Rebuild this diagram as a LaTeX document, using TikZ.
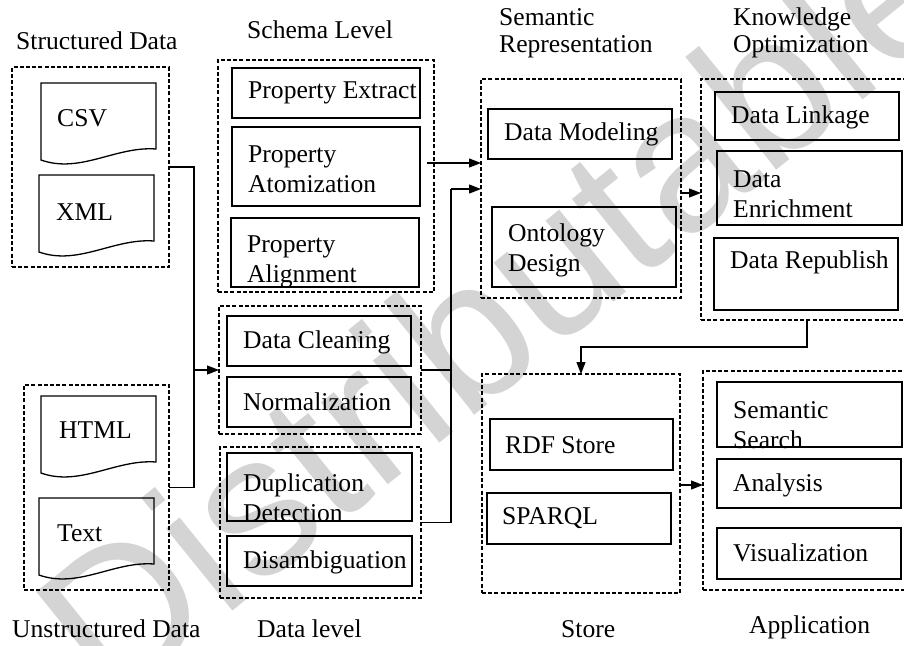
\documentclass[tikz,border=0pt]{standalone}
\usepackage{fontspec}
\setmainfont{Liberation Serif}
\newfontfamily\wmfont{Liberation Sans}
\usetikzlibrary{arrows.meta,calc}
\definecolor{wm}{RGB}{212,212,212}
\tikzset{
  ibox/.style={draw, line width=1.3pt, inner sep=0pt, outer sep=0pt},
  gbox/.style={draw, line width=1.1pt, dash pattern=on 4pt off 2.2pt, inner sep=0pt, outer sep=0pt},
  docline/.style={draw, line width=1.3pt},
  txt/.style={font=\fontsize{25.6}{30}\selectfont, inner sep=0pt, align=left, anchor=west},
  conn/.style={line width=1.2pt},
  arr/.style={conn, -{Triangle[length=12pt,width=9pt]}},
  wmtext/.style={text=wm, font=\wmfont\fontsize{200}{200}\selectfont, inner sep=0pt}
}
\newcommand\ibx[5]{\node[ibox, minimum width={#4pt-#2pt}, minimum height={#5pt-#3pt}] (#1) at ({(#2+#4)/2},{-(#3+#5)/2}) {};}
\newcommand\gbx[5]{\node[gbox, minimum width={#4pt-#2pt}, minimum height={#5pt-#3pt}] (#1) at ({(#2+#4)/2},{-(#3+#5)/2}) {};}
\newcommand\docsh[4]{\draw[docline] (#1,-#2) -- (#3,-#2) -- (#3,{-(#4-11)}) .. controls ({#1+0.65*(#3-#1)},{-(#4-11)+3}) and ({#1+0.34*(#3-#1)},{-#4-14}) .. (#1,-#4) -- cycle;}
\begin{document}
\begin{tikzpicture}[x=1pt,y=1pt]
\useasboundingbox (0,0) rectangle (904,-645);
\clip (0,0) rectangle (904,-645);
% watermark
\node[wmtext, rotate=39, anchor=base west] (wm) at (110,-710) {Distributable};
% group boxes
\gbx{g1}{12}{67}{169}{267}
\gbx{g2}{24}{385}{169}{590}
\gbx{g3}{218}{60}{434}{292}
\gbx{g4}{219}{306}{421}{434}
\gbx{g5}{220}{447}{421}{598}
\gbx{g6}{481}{79}{681}{298}
\gbx{g7}{701}{79}{913}{320}
\gbx{g8}{482}{374}{680}{593}
\gbx{g9}{703}{371}{910}{590}
% documents
\docsh{41}{83}{156}{160}
\docsh{39}{175}{154}{252}
\docsh{41}{396}{156}{473}
\docsh{39}{498}{154}{575}
\node[txt] (csv) at (57,-118) {CSV};
\node[txt] (xml) at (56,-212) {XML};
\node[txt] (html) at (59,-430) {HTML};
\node[txt] (text) at (57,-533) {Text};
% inner boxes
\ibx{pe}{232}{68}{420}{118}
\ibx{pa}{232}{127}{420}{206}
\ibx{pal}{231}{218}{419}{287}
\ibx{dc}{227}{316}{411}{366}
\ibx{nm}{227}{377}{411}{427}
\ibx{dd}{227}{453}{412}{521}
\ibx{da}{227}{536}{412}{586}
\ibx{dm}{488}{109}{672}{159}
\ibx{od}{492}{207}{676}{287}
\ibx{dl}{715}{92}{899}{140}
\ibx{de}{717}{151}{902}{225}
\ibx{dr}{714}{238}{898}{310}
\ibx{rdf}{490}{419}{673}{470}
\ibx{sp}{487}{493}{671}{544}
\ibx{ss}{717}{382}{902}{447}
\ibx{an}{717}{459}{901}{508}
\ibx{vi}{717}{528}{901}{579}
% inner texts
\node[txt] (t-pe) at (248,-93) {Property Extract};
\node[txt] (t-pa) at (248,-169) {Property\\Atomization};
\node[txt] (t-pal) at (247,-262) {Property\\Alignment};
\node[txt] (t-dc) at (243,-342) {Data Cleaning};
\node[txt] (t-nm) at (243,-402) {Normalization};
\node[txt] (t-dd) at (243,-498) {Duplication\\Detection};
\node[txt] (t-da) at (243,-562) {Disambiguation};
\node[txt] (t-dm) at (504,-134) {Data Modeling};
\node[txt] (t-od) at (508,-250) {Ontology\\Design};
\node[txt] (t-dl) at (731,-117) {Data Linkage};
\node[txt] (t-de) at (733,-194) {Data\\Enrichment};
\node[txt] (t-dr) at (730,-262) {Data Republish};
\node[txt] (t-rdf) at (505,-445) {RDF Store};
\node[txt] (t-sp) at (502,-518) {SPARQL};
\node[txt] (t-ss) at (733,-425) {Semantic\\Search};
\node[txt] (t-an) at (733,-485) {Analysis};
\node[txt] (t-vi) at (733,-553) {Visualization};
% labels
\node[txt] (l-sd) at (16,-41) {Structured Data};
\node[txt] (l-sl) at (247,-30) {Schema Level};
\node[txt] (l-sr) at (499,-33) {Semantic\\[-3pt]Representation};
\node[txt] (l-ko) at (733,-33) {Knowledge\\[-3pt]Optimization};
\node[txt] (l-ud) at (12,-629) {Unstructured Data};
\node[txt] (l-dl) at (257,-629) {Data level};
\node[txt] (l-st) at (561,-629) {Store};
\node[txt] (l-ap) at (749,-627) {Application};
% connectors
\coordinate (j1) at (194,-370);
\draw[conn] (g1.east) -| (j1);
\draw[conn] (g2.east) -| (j1);
\draw[arr] (j1) -- (g4.west);
\coordinate (a1) at (427,-163);
\draw[arr] (a1) -- (a1 -| g6.west);
\coordinate (j2) at (451,-189);
\draw[arr] (j2) -- (j2 -| g6.west);
\draw[conn] (g5.east) -| (j2);
\draw[conn] (g4.east) -- (g4.east -| j2);
\coordinate (k1) at (0,-193);
\draw[arr] (g6.east |- k1) -- (g7.west |- k1);
\coordinate (k2) at (0,-347);
\draw[arr] (g7.south) |- (k2 -| g8.north) -- (g8.north);
\coordinate (k3) at (0,-485);
\draw[arr] (g8.east |- k3) -- (g9.west |- k3);
\end{tikzpicture}
\end{document}
